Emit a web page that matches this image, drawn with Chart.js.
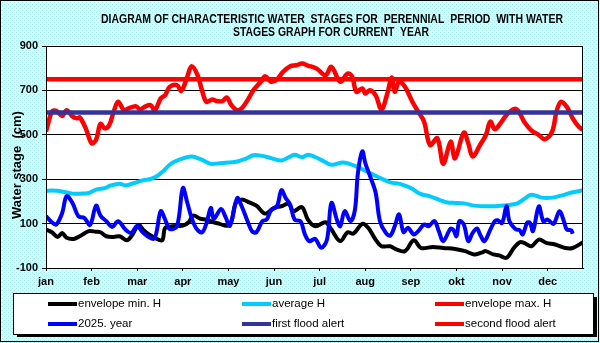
<!DOCTYPE html>
<html>
<head>
<meta charset="utf-8">
<title>Water stages</title>
<script src="https://cdn.jsdelivr.net/npm/chart.js"></script>
<style>
  html, body { margin: 0; padding: 0; background: #ccffff; }
  canvas { display: block; }
</style>
</head>
<body>
<canvas id="stageChart" width="600" height="343"></canvas>
<script>
// axis labels
const months = ["jan", "feb", "mar", "apr", "may", "jun", "jul", "aug", "sep", "okt", "nov", "dec"];
const monthStartDays = [0, 31, 62, 93, 124, 155, 186, 217, 248, 279, 310, 341];
const yTicks = [-100, 100, 300, 500, 700, 900];
const yearEnd = 365;

// envelope min. H
const minDays = [0, 4, 8, 11, 14, 19, 23, 29, 34, 37, 41, 46, 50, 55, 58, 63, 66, 70, 74, 79, 81, 86, 93, 97, 100, 105, 109, 114, 118, 123, 126, 129, 133, 138, 143, 149, 155, 160, 165, 168, 174, 178, 183, 190, 194, 200, 205, 209, 215, 219, 224, 228, 234, 238, 244, 250, 255, 263, 270, 278, 285, 291, 296, 299, 304, 308, 313, 318, 322, 325, 330, 335, 340, 346, 353, 358, 365];
const minH = [73, 61, 40, 58, 36, 31, 43, 66, 63, 61, 43, 40, 43, 25, 43, 94, 73, 51, 36, 25, 81, 88, 91, 106, 136, 122, 118, 106, 99, 90, 110, 193, 208, 196, 181, 145, 171, 178, 189, 156, 174, 118, 88, 106, 73, 21, 61, 55, 99, 81, 28, -2, -2, -16, -24, 25, -10, -5, -10, -14, -24, -39, -31, -24, -39, -43, -54, -10, 16, 13, -2, 28, 13, 6, -10, -10, 16];

// average H
const avgDays = [0, 4, 11, 18, 23, 29, 34, 40, 44, 50, 54, 60, 66, 71, 75, 80, 84, 89, 99, 105, 112, 118, 124, 130, 135, 141, 147, 153, 160, 165, 169, 174, 178, 183, 187, 194, 202, 210, 218, 225, 234, 241, 248, 254, 261, 268, 273, 278, 285, 291, 300, 311, 320, 325, 330, 337, 344, 350, 358, 365];
const avgH = [248, 249, 245, 235, 235, 238, 253, 260, 272, 280, 272, 283, 295, 301, 312, 338, 365, 384, 402, 390, 369, 372, 375, 380, 390, 408, 405, 395, 384, 399, 410, 399, 410, 400, 387, 365, 375, 360, 335, 312, 286, 278, 260, 235, 223, 205, 195, 193, 190, 181, 178, 182, 190, 211, 230, 217, 217, 226, 241, 250];

// envelope max. H
const maxDays = [0, 4, 7, 11, 14, 18, 21, 23, 27, 31, 34, 37, 40, 43, 46, 49, 53, 56, 61, 64, 67, 71, 74, 78, 81, 84, 89, 92, 96, 99, 103, 106, 109, 113, 116, 120, 123, 126, 130, 133, 137, 141, 146, 149, 153, 157, 161, 166, 170, 174, 178, 184, 190, 194, 200, 205, 208, 211, 215, 217, 220, 224, 228, 232, 235, 237, 240, 244, 249, 253, 257, 261, 266, 270, 275, 278, 284, 287, 290, 295, 299, 302, 305, 308, 313, 318, 321, 325, 330, 335, 339, 344, 347, 350, 354, 358, 362, 365];
const maxH = [514, 604, 608, 585, 611, 582, 574, 578, 529, 462, 477, 549, 529, 544, 604, 649, 611, 619, 629, 614, 626, 634, 611, 664, 679, 716, 724, 698, 761, 809, 769, 701, 649, 659, 652, 652, 668, 634, 611, 619, 656, 701, 739, 764, 739, 749, 783, 809, 813, 821, 812, 798, 768, 806, 739, 776, 764, 694, 709, 686, 701, 679, 614, 686, 758, 694, 739, 716, 649, 604, 559, 454, 484, 369, 469, 394, 510, 462, 402, 454, 499, 559, 525, 544, 589, 616, 608, 559, 519, 499, 480, 514, 604, 649, 626, 574, 537, 522];

// 2025. year
const curDays = [0, 4, 7, 11, 14, 18, 22, 26, 30, 34, 37, 41, 45, 49, 54, 58, 62, 65, 69, 73, 75, 78, 81, 84, 89, 93, 96, 99, 102, 106, 109, 112, 114, 119, 122, 125, 130, 133, 137, 140, 143, 147, 150, 153, 157, 160, 163, 166, 169, 173, 176, 179, 183, 187, 191, 194, 198, 200, 203, 207, 210, 212, 215, 217, 220, 224, 227, 231, 234, 237, 240, 243, 246, 250, 253, 257, 260, 264, 267, 270, 275, 277, 279, 281, 284, 287, 290, 293, 295, 298, 302, 305, 307, 310, 313, 315, 319, 322, 324, 327, 329, 331, 335, 338, 341, 345, 349, 352, 354, 357, 358];
const curH = [133, 106, 96, 148, 223, 193, 133, 126, 94, 181, 136, 111, 85, 111, 73, 58, 91, 66, 43, 31, 58, 156, 118, 76, 88, 260, 195, 125, 80, 60, 100, 171, 122, 166, 130, 90, 215, 178, 111, 66, 61, 111, 118, 160, 178, 250, 214, 185, 118, 111, 51, 21, 31, -9, 28, 193, 111, 88, 156, 111, 163, 327, 425, 373, 318, 241, 111, 58, 46, 88, 141, 61, 81, 51, 66, 96, 88, 111, 66, 21, 77, 70, 43, 111, 96, 21, 58, 78, 51, 21, 73, 111, 115, 103, 178, 111, 76, 70, 51, 103, 103, 66, 178, 111, 118, 99, 156, 111, 73, 70, 54];

// flood alert levels
const firstFloodAlert = 600;
const secondFloodAlert = 750;

const titleLines = [
    "DIAGRAM OF CHARACTERISTIC WATER  STAGES FOR  PERENNIAL  PERIOD  WITH WATER",
    "STAGES GRAPH FOR CURRENT  YEAR"
];

function toPoints(days, values) {
    return days.map((d, i) => ({ x: d, y: values[i] }));
}

function flatLine(value) {
    return [{ x: 0, y: value }, { x: yearEnd, y: value }];
}

function makeDataset(label, data, color, width, order) {
    return {
        label: label,
        data: data,
        borderColor: color,
        backgroundColor: color,
        borderWidth: width,
        pointRadius: 0,
        tension: 0.35,
        fill: false,
        order: order
    };
}

// light cyan dotted paper behind the chart
function makePattern(ctx) {
    const tile = document.createElement("canvas");
    tile.width = 4;
    tile.height = 4;
    const t = tile.getContext("2d");
    t.fillStyle = "#ccffff";
    t.fillRect(0, 0, 4, 4);
    t.fillStyle = "#a9e9f2";
    t.fillRect(0, 0, 1, 1);
    t.fillRect(2, 2, 1, 1);
    return ctx.createPattern(tile, "repeat");
}

const decorPlugin = {
    id: "decor",
    beforeDraw(chart) {
        const ctx = chart.ctx;
        const a = chart.chartArea;
        ctx.save();
        ctx.fillStyle = makePattern(ctx);
        ctx.fillRect(0, 0, chart.width, chart.height);
        ctx.fillStyle = "#ffffff";
        ctx.fillRect(a.left, a.top, a.right - a.left, a.bottom - a.top);
        ctx.restore();
    },
    afterDraw(chart) {
        const ctx = chart.ctx;
        const a = chart.chartArea;
        ctx.save();

        // plot frame
        ctx.strokeStyle = "#000";
        ctx.lineWidth = 1;
        ctx.strokeRect(a.left + 0.5, a.top + 0.5, a.right - a.left - 1, a.bottom - a.top);

        // title, squeezed to the width of the original
        ctx.fillStyle = "#000";
        ctx.textAlign = "center";
        ctx.textBaseline = "alphabetic";
        const titlePos = [{ x: 332, y: 23, w: 462 }, { x: 331, y: 36, w: 196 }];
        titleLines.forEach((line, i) => {
            ctx.font = 'bold 12px "Liberation Sans", Arial, sans-serif';
            const w = ctx.measureText(line).width;
            ctx.save();
            ctx.translate(titlePos[i].x, titlePos[i].y);
            ctx.scale(titlePos[i].w / w, 1);
            ctx.fillText(line, 0, 0);
            ctx.restore();
        });

        // y axis title
        ctx.save();
        ctx.translate(17, 165);
        ctx.rotate(-Math.PI / 2);
        ctx.font = 'bold 13px "Liberation Sans", Arial, sans-serif';
        ctx.textBaseline = "middle";
        ctx.fillText("Water stage  (cm)", 0, 0);
        ctx.restore();

        // legend box with shadow
        ctx.fillStyle = "#000";
        ctx.fillRect(17, 297, 580, 40);
        ctx.fillStyle = "#fff";
        ctx.fillRect(13.5, 293.5, 580, 41);
        ctx.strokeStyle = "#000";
        ctx.strokeRect(13.5, 293.5, 580, 41);

        const colX = [48, 242, 435];
        const rowY = [304, 324];
        ctx.font = '11.5px "Liberation Sans", Arial, sans-serif';
        ctx.textAlign = "left";
        ctx.textBaseline = "middle";
        chart.data.datasets.forEach((ds, i) => {
            const x = colX[i % 3];
            const y = rowY[Math.floor(i / 3)];
            ctx.strokeStyle = ds.borderColor;
            ctx.lineWidth = 4;
            ctx.beginPath();
            ctx.moveTo(x, y);
            ctx.lineTo(x + 29, y);
            ctx.stroke();
            ctx.fillStyle = "#000";
            ctx.fillText(ds.label, x + 30, y);
        });

        // outer frame
        ctx.strokeStyle = "#000";
        ctx.lineWidth = 1;
        ctx.strokeRect(0.5, 0.5, 598, 341);
        ctx.restore();
    }
};

const stageChart = new Chart(document.getElementById("stageChart"), {
    type: "line",
    data: {
        datasets: [
            makeDataset("envelope min. H", toPoints(minDays, minH), "#000000", 4, 6),
            makeDataset("average H", toPoints(avgDays, avgH), "#00ccff", 4, 5),
            makeDataset("envelope max. H", toPoints(maxDays, maxH), "#ff0000", 4.5, 4),
            makeDataset("2025. year", toPoints(curDays, curH), "#0000ff", 4, 3),
            makeDataset("first flood alert", flatLine(firstFloodAlert), "#333399", 4.5, 2),
            makeDataset("second flood alert", flatLine(secondFloodAlert), "#ff0000", 4.5, 1)
        ]
    },
    options: {
        responsive: false,
        devicePixelRatio: 1,
        animation: false,
        events: [],
        layout: { padding: { top: 46, right: 17, bottom: 0, left: 0 } },
        plugins: {
            legend: { display: false },
            tooltip: { enabled: false },
            title: { display: false }
        },
        scales: {
            x: {
                type: "linear",
                min: 0,
                max: yearEnd,
                afterBuildTicks: (scale) => {
                    scale.ticks = monthStartDays.map(v => ({ value: v }));
                },
                afterFit: (scale) => { scale.height = 75; },
                ticks: {
                    autoSkip: false,
                    maxRotation: 0,
                    padding: 4,
                    color: "#000",
                    font: { family: '"Liberation Sans", Arial, sans-serif', size: 11, weight: "bold" },
                    callback: (value) => months[monthStartDays.indexOf(value)]
                },
                grid: { drawOnChartArea: false, drawTicks: true, tickLength: 3, color: "#000" },
                border: { display: true, color: "#000", width: 1 }
            },
            y: {
                min: -100,
                max: 900,
                afterBuildTicks: (scale) => {
                    scale.ticks = yTicks.map(v => ({ value: v }));
                },
                afterFit: (scale) => { scale.width = 46; },
                ticks: {
                    padding: 4,
                    color: "#000",
                    font: { family: '"Liberation Sans", Arial, sans-serif', size: 11, weight: "bold" }
                },
                grid: { color: "#000", lineWidth: 1, tickLength: 4 },
                border: { display: true, color: "#000", width: 1 }
            }
        }
    },
    plugins: [decorPlugin]
});
</script>
</body>
</html>
